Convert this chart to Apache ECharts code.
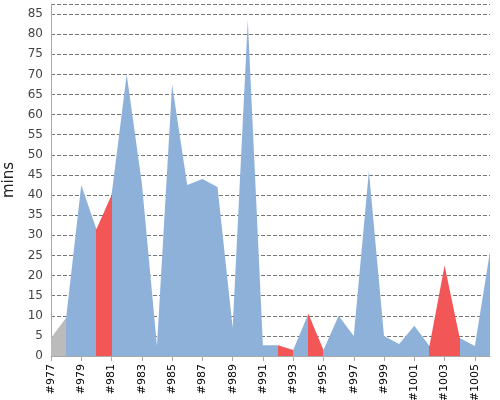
<!DOCTYPE html>
<html><head><meta charset="utf-8">
<script src="https://cdn.jsdelivr.net/npm/echarts@6/dist/echarts.min.js"></script>
<style>html,body{margin:0;padding:0;background:#fff}#c{width:500px;height:400px}</style>
</head><body><div id="c"></div>
<script>
var categories = [];
for (var n = 977; n <= 1006; n++) categories.push('#' + n);
var values = [4.5, 9.5, 42.5, 31.5, 40, 70, 43, 2.5, 67.5, 42.5, 44, 42, 7, 83.5, 2.7, 2.7, 1.5, 10.5, 1.5, 10, 5, 46, 5, 3, 7.5, 2.5, 22.5, 4.5, 2.5, 26];
var yTicks = {min: 0, max: 87.5, interval: 5};
var chart = echarts.init(document.getElementById('c'));
chart.setOption({
  animation: false,
  grid: {left: 51, right: 10, top: 4, bottom: 44, containLabel: false, outerBoundsMode: 'none'},
  xAxis: {
    type: 'category', data: categories, boundaryGap: false,
    axisLine: {lineStyle: {color: '#aaa'}},
    axisTick: {alignWithLabel: true, lineStyle: {color: '#aaa'}},
    axisLabel: {rotate: 90, interval: 1, color: '#000', fontSize: 11, fontFamily: 'DejaVu Sans'}
  },
  yAxis: {
    type: 'value', min: yTicks.min, max: yTicks.max, interval: yTicks.interval,
    name: 'mins', nameLocation: 'middle', nameGap: 32, nameRotate: 90,
    nameTextStyle: {fontSize: 15, color: '#222', fontFamily: 'DejaVu Sans'},
    axisLine: {show: true, lineStyle: {color: '#aaa'}},
    axisTick: {show: false},
    axisLabel: {color: '#444', fontSize: 12, fontFamily: 'DejaVu Sans', showMaxLabel: false},
    splitLine: {lineStyle: {type: 'dashed', color: '#777'}}
  },
  visualMap: {
    show: false, type: 'piecewise', dimension: 0,
    pieces: [
      {gt: 0, lte: 1, color: '#bbbbbb'},
      {gt: 3, lte: 4, color: '#f25656'},
      {gt: 15, lte: 16, color: '#f25656'},
      {gt: 17, lte: 18, color: '#f25656'},
      {gt: 25, lte: 27, color: '#f25656'}
    ],
    outOfRange: {color: '#8eb1da'}
  },
  series: [{
    type: 'line', data: values, symbol: 'none',
    lineStyle: {width: 0}, areaStyle: {opacity: 1}
  }]
});
</script></body></html>
